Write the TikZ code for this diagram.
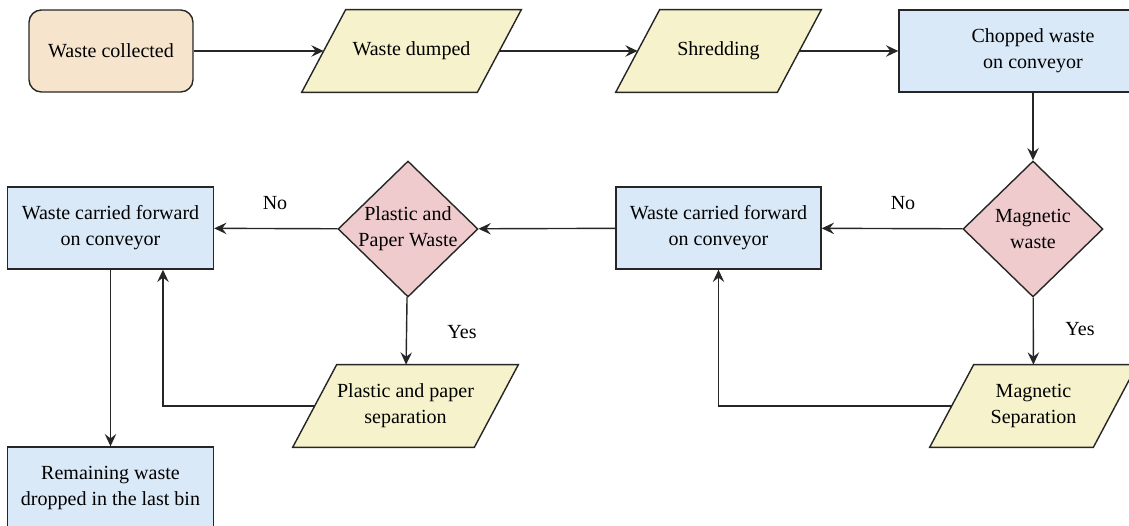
\documentclass[tikz,border=0pt]{standalone}
\usepackage{fontspec}
\setmainfont{Liberation Serif}
\usepackage{tikz}
\usetikzlibrary{positioning, arrows.meta, shapes.geometric, backgrounds}
\definecolor{lineC}{HTML}{262626}
\definecolor{wfOrange}{HTML}{F6E4CC}
\definecolor{wfYellow}{HTML}{F6F2CC}
\definecolor{wfPink}{HTML}{EFCBCD}
\definecolor{wfBlue}{HTML}{DAE9F8}
\newcommand{\ioslant}{0.44cm}
\begin{document}
\begin{tikzpicture}[x=0.02cm, y=-0.02cm, font=\rmfamily\fontsize{11.4}{14.8}\selectfont,proc/.style={draw=lineC, line width=0.8pt, fill=wfBlue, minimum width=4.1cm, minimum height=1.64cm, align=center, inner sep=2pt},io/.style={minimum height=1.64cm, align=center, inner sep=2pt},iobox/.style={draw=lineC, line width=0.8pt, fill=wfYellow},dec/.style={diamond, draw=lineC, line width=0.8pt, fill=wfPink, minimum width=2.8cm, minimum height=2.72cm, inner sep=-2.5pt, align=center},arr/.style={-{Stealth[length=7pt, width=6.5pt, inset=2.5pt]}, line width=0.8pt, draw=lineC},yn/.style={inner sep=1pt}]
\clip (0,0) rectangle (1129,526);
\node[proc, fill=wfOrange, rounded corners=7pt, minimum width=3.28cm] (wcol) at (111,51) {Waste collected};
\node[io, minimum width=3.5cm] (wdump) at (411.5,51) {Waste dumped};
\node[io, minimum width=3.22cm] (shred) at (718.5,51) {Shredding};
\node[proc, minimum width=5.36cm] (chop) at (1033,51) {Chopped waste\\on conveyor};
\node[dec] (magw) at (1033,229) {Magnetic\\waste};
\node[proc] (mbox) at (718.5,228) {Waste carried forward\\on conveyor};
\node[dec] (ppw) at (408,229) {Plastic and\\Paper Waste};
\node[proc, minimum width=4.12cm] (lbox) at (110.5,228) {Waste carried forward\\on conveyor};
\node[io, minimum width=3.62cm] (psep) at (405.5,406) {Plastic and paper\\separation};
\node[io, minimum width=3.26cm] (msep) at (1033.5,406) {Magnetic\\Separation};
\node[proc, minimum width=4.12cm] (rem) at (110.5,488) {Remaining waste\\dropped in the last bin};
\begin{scope}[on background layer]
\foreach \n in {wdump, shred, psep, msep} {\draw[iobox] ([xshift=-\ioslant]\n.south west) -- ([xshift=-\ioslant]\n.south east) -- ([xshift=\ioslant]\n.north east) -- ([xshift=\ioslant]\n.north west) -- cycle;}
\end{scope}
\draw[arr] (wcol)--(wdump); \draw[arr] (wdump)--(shred); \draw[arr] (shred)--(chop);
\draw[arr] (chop)--(magw); \draw[arr] (magw)--(mbox); \draw[arr] (mbox)--(ppw); \draw[arr] (ppw)--(lbox);
\draw[arr] (ppw)--(psep); \draw[arr] (magw)--(msep); \draw[arr] (lbox)--(rem);
\draw[arr] (psep.west) -| ([xshift=1.05cm]lbox.south);
\draw[arr] (msep.west) -| (mbox.south);
\node[yn] (no1) at (903,203) {No}; \node[yn] (no2) at (275,203) {No};
\node[yn] (yes1) at (1080,329) {Yes}; \node[yn] (yes2) at (462,332) {Yes};
\end{tikzpicture}
\end{document}
